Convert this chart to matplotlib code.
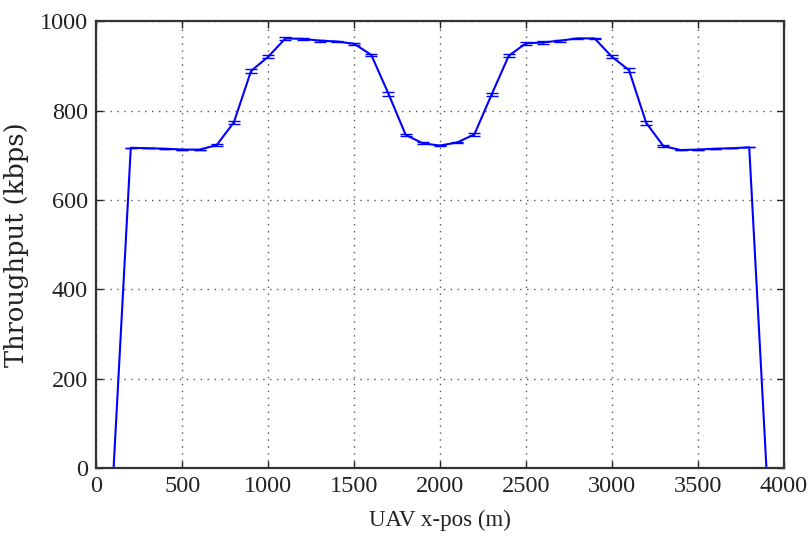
import matplotlib
matplotlib.use("Agg")
import matplotlib.pyplot as plt

x_pos = [100, 200, 300, 400, 500, 600, 700, 800, 900, 1000, 1100, 1200, 1300, 1400,
         1500, 1600, 1700, 1800, 1900, 2000, 2100, 2200, 2300, 2400, 2500, 2600,
         2700, 2800, 2900, 3000, 3100, 3200, 3300, 3400, 3500, 3600, 3700, 3800, 3900]
throughput = [0, 717, 716, 715, 713, 713, 723, 774, 889, 921, 962, 961, 957, 955,
              950, 925, 838, 746, 727, 722, 729, 747, 836, 923, 951, 953, 957, 962,
              962, 921, 891, 773, 721, 712, 713, 715, 716, 718, 0]
errors = [0, 0, 0, 0, 0, 0, 3, 4, 4, 3, 3, 2, 2, 2,
          2, 3, 4, 3, 2, 2, 2, 3, 3, 3, 3, 3, 2, 2,
          2, 3, 5, 4, 2, 0, 0, 0, 0, 0, 0]
x_ticks = [0, 500, 1000, 1500, 2000, 2500, 3000, 3500, 4000]
y_ticks = [0, 200, 400, 600, 800, 1000]

fig = plt.figure(figsize=(8.11, 5.36), dpi=100)
ax = fig.add_axes([0.1189, 0.127, 0.8473, 0.833])

ax.errorbar(x_pos, throughput, yerr=errors, color="#0000ff", ecolor="#0000ff",
            linewidth=1.5, elinewidth=1.0, capsize=4, capthick=1.0)

ax.set_xlim(0, 4000)
ax.set_ylim(0, 1000)
ax.set_xticks(x_ticks)
ax.set_yticks(y_ticks)
ax.grid(True, linestyle=(0, (1, 4)), color="#555555", linewidth=1.0)
ax.tick_params(direction="in", top=True, right=True, length=5, width=1,
               colors="#222222", pad=6)
for lab in ax.get_xticklabels() + ax.get_yticklabels():
    lab.set_fontfamily("Liberation Serif")
    lab.set_fontsize(17.5)
for sp in ax.spines.values():
    sp.set_linewidth(1.6)
    sp.set_color("#333333")

ax.set_xlabel("UAV x-pos (m)", fontfamily="Liberation Serif", fontsize=16.5,
              color="#222222", labelpad=9)
ax.set_ylabel("Throughput (kbps)", fontfamily="DejaVu Serif", fontsize=18.5,
              color="#222222", labelpad=8)

fig.savefig("out.png", dpi=100)
